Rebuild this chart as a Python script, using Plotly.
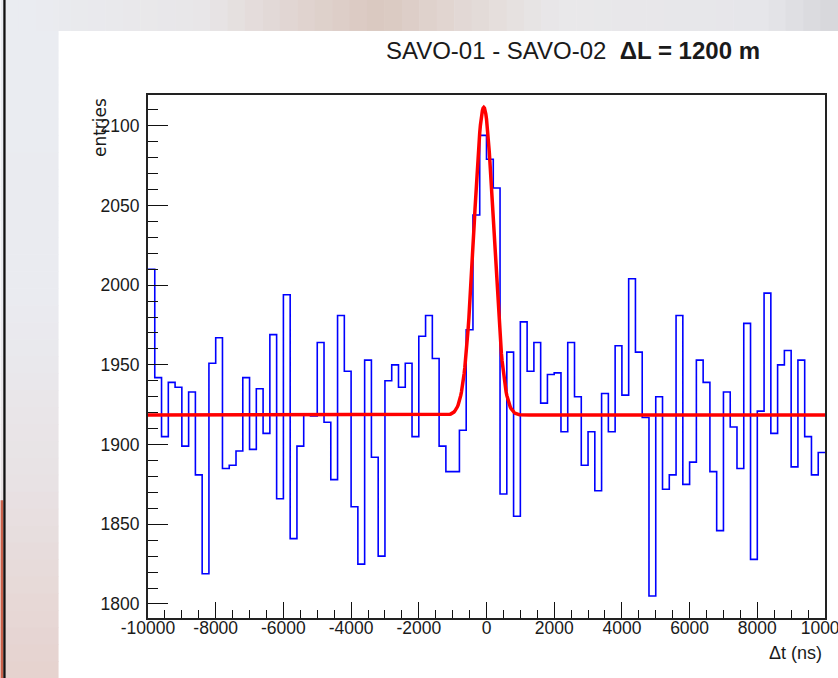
import numpy as np
import plotly.graph_objects as go

# ---------------- data ----------------
bin_start = -10000
bin_width = 200
counts = [2010, 1942, 1905, 1939, 1936, 1899, 1933, 1881, 1819, 1951,
          1967, 1885, 1887, 1896, 1942, 1897, 1935, 1907, 1969, 1866,
          1994, 1841, 1899, 1919, 1918, 1964, 1914, 1878, 1981, 1946,
          1861, 1825, 1953, 1892, 1830, 1940, 1950, 1936, 1951, 1905,
          1968, 1981, 1954, 1899, 1883, 1883, 1909, 1972, 2044, 2094,
          2079, 2061, 1869, 1958, 1855, 1977, 1946, 1964, 1926, 1944,
          1945, 1908, 1964, 1930, 1887, 1908, 1871, 1932, 1908, 1962,
          1931, 2004, 1958, 1917, 1805, 1930, 1872, 1881, 1981, 1875,
          1889, 1953, 1939, 1883, 1846, 1933, 1911, 1885, 1976, 1828,
          1921, 1995, 1907, 1950, 1959, 1886, 1953, 1905, 1881, 1895]

# fit: constant + gaussian
fit_const = 1918.5
fit_amp = 193.0
fit_mean = -80.0
fit_sigma = 290.0

x_tick_vals = [-10000, -8000, -6000, -4000, -2000, 0, 2000, 4000, 6000, 8000, 10000]
x_tick_text = ["-10000", "-8000", "-6000", "-4000", "-2000", "0", "2000", "4000", "6000", "8000", "10000"]
y_tick_vals = [1800, 1850, 1900, 1950, 2000, 2050, 2100]
y_tick_text = ["1800", "1850", "1900", "1950", "2000", "2050", "2100"]

title_text = "SAVO-01 - SAVO-02  <b>ΔL = 1200 m</b>"
x_title = "Δt (ns)"
y_title = "entries"

# ---------------- build ----------------
n = len(counts)
edges = [bin_start + bin_width * i for i in range(n + 1)]
step_y = counts + [counts[-1]]

xf = np.linspace(bin_start, bin_start + bin_width * n, 1001)
yf = fit_const + fit_amp * np.exp(-0.5 * ((xf - fit_mean) / fit_sigma) ** 2)

W, H = 838, 678
L, R, T, B = 147.5, 825.0, 95.0, 617.7

def px(x):
    return (x - L) / (R - L)

def py(y):
    return (B - y) / (B - T)

def lerp(c0, c1, t):
    return tuple(int(round(a + (b - a) * t)) for a, b in zip(c0, c1))

fig = go.Figure()
fig.add_trace(go.Scatter(x=edges, y=step_y, mode="lines",
                         line=dict(color="#0000ff", width=1.6, shape="hv"),
                         hoverinfo="skip"))
fig.add_trace(go.Scatter(x=xf, y=yf, mode="lines",
                         line=dict(color="#ff0000", width=3.5),
                         hoverinfo="skip"))

shapes = []
# left strip gradient (bluish-grey top -> pinkish bottom)
left_stops = [(0, (234, 236, 241)), (300, (234, 235, 240)), (480, (232, 226, 228)),
              (678, (230, 210, 206))]
nb = 40
for i in range(nb):
    y0 = H * i / nb
    y1 = H * (i + 1) / nb
    ym = (y0 + y1) / 2
    for (a, ca), (b, cb) in zip(left_stops[:-1], left_stops[1:]):
        if a <= ym <= b:
            c = lerp(ca, cb, (ym - a) / (b - a))
            break
    shapes.append(dict(type="rect", xref="paper", yref="paper", layer="below",
                       x0=px(0), x1=px(58), y0=py(y1 + 0.5), y1=py(y0),
                       fillcolor="rgb(%d,%d,%d)" % c, line=dict(width=0)))
# top strip with warm blur in the middle
top_stops = [(0, (234, 236, 241)), (200, (232, 230, 232)), (300, (224, 212, 208)),
             (380, (218, 200, 192)), (460, (226, 216, 212)), (560, (233, 232, 234)),
             (760, (230, 230, 234)), (838, (214, 214, 218))]
ns = 48
for i in range(ns):
    x0 = W * i / ns
    x1 = W * (i + 1) / ns
    xm = (x0 + x1) / 2
    for (a, ca), (b, cb) in zip(top_stops[:-1], top_stops[1:]):
        if a <= xm <= b:
            c = lerp(ca, cb, (xm - a) / (b - a))
            break
    shapes.append(dict(type="rect", xref="paper", yref="paper", layer="below",
                       x0=px(max(x0, 58)), x1=px(x1 + 0.5), y0=py(31), y1=py(0),
                       fillcolor="rgb(%d,%d,%d)" % c, line=dict(width=0)))
# dark edge line and red sliver at far left
shapes.append(dict(type="rect", xref="paper", yref="paper", layer="below",
                   x0=px(0), x1=px(2.7), y0=py(H), y1=py(500),
                   fillcolor="#c8604a", line=dict(width=0)))
shapes.append(dict(type="rect", xref="paper", yref="paper", layer="below",
                   x0=px(2.7), x1=px(5), y0=py(H), y1=py(0),
                   fillcolor="#111111", line=dict(width=0)))

FONT = "Liberation Sans, Arial, Helvetica, sans-serif"
tick_font = dict(family=FONT, size=17.5, color="#1a1a1a")

fig.update_layout(
    width=W, height=H,
    margin=dict(l=L, r=W - R, t=T, b=H - B, autoexpand=False),
    paper_bgcolor="white", plot_bgcolor="white",
    showlegend=False,
    shapes=shapes,
    title=dict(text=title_text, xref="container", yref="container",
               x=760 / W, xanchor="right", y=1 - 51 / H, yanchor="middle",
               font=dict(family=FONT, size=24, color="#1a1a1a")),
    xaxis=dict(range=[-10000, 10000], tickmode="array", tickvals=x_tick_vals,
               ticktext=x_tick_text, ticks="inside", ticklen=16, tickwidth=1.2,
               tickcolor="#111", showgrid=False, zeroline=False,
               showline=True, mirror=True, linecolor="#222", linewidth=2,
               tickfont=tick_font, ticklabelstandoff=-7,
               ticklabeloverflow="allow",
               minor=dict(dtick=500, tick0=0, ticks="inside", ticklen=8,
                          tickwidth=1.2, tickcolor="#111", showgrid=False)),
    yaxis=dict(range=[1791.2, 2119.3], tickmode="array", tickvals=y_tick_vals,
               ticktext=y_tick_text, ticks="inside", ticklen=20, tickwidth=1.2,
               tickcolor="#111", showgrid=False, zeroline=False,
               showline=True, mirror=True, linecolor="#222", linewidth=2,
               tickfont=tick_font, ticklabelstandoff=3,
               ticklabeloverflow="allow",
               minor=dict(dtick=10, tick0=1800, ticks="inside", ticklen=10,
                          tickwidth=1.2, tickcolor="#111", showgrid=False)),
    annotations=[
        dict(text=x_title, xref="paper", yref="paper", x=px(824), y=py(653),
             xanchor="right", yanchor="middle", showarrow=False,
             font=dict(family=FONT, size=18, color="#1a1a1a")),
        dict(text=y_title, xref="paper", yref="paper", x=px(99), y=py(96),
             xanchor="center", yanchor="top", textangle=-90, showarrow=False,
             font=dict(family="DejaVu Sans", size=17, color="#1a1a1a")),
    ],
)

fig.write_html("out.html",
               config={"displayModeBar": False},
               post_script="document.body.style.margin='0px';document.body.style.overflow='hidden';")
